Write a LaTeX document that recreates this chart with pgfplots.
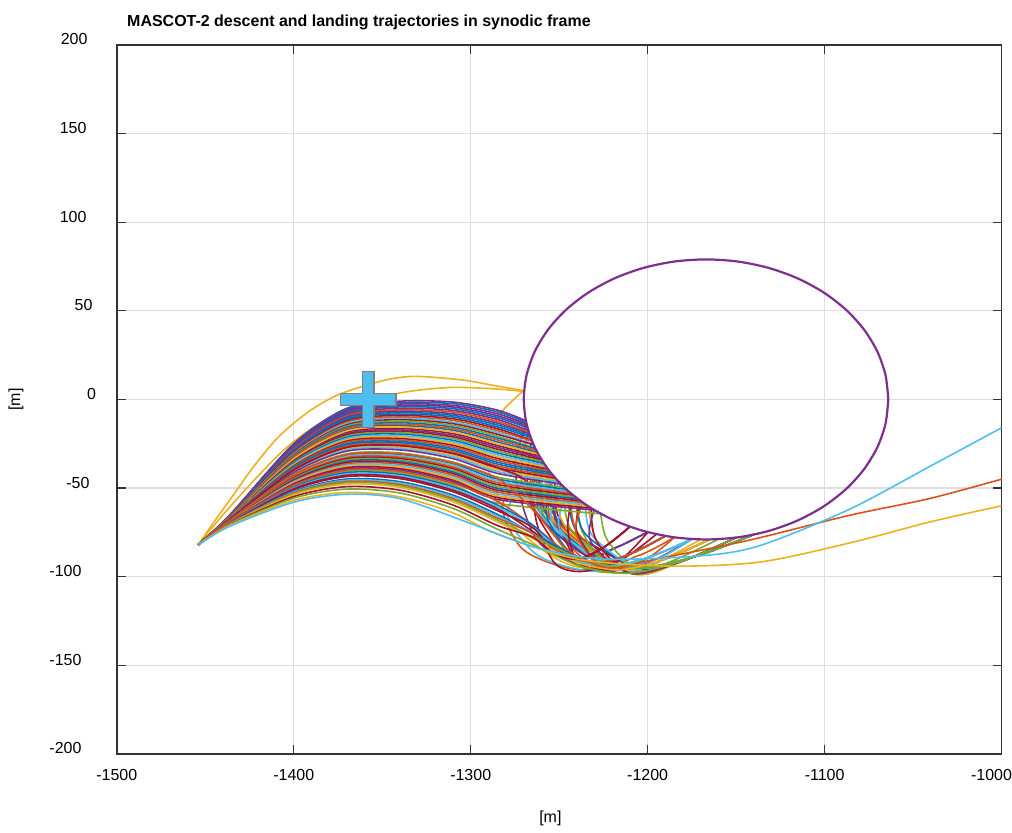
\documentclass[border=0pt]{standalone}
\usepackage{fontspec}
\setmainfont{Liberation Sans}
\usepackage{pgfplots}
\pgfplotsset{compat=1.18}

\definecolor{mB}{RGB}{0,114,189}
\definecolor{mO}{RGB}{217,83,25}
\definecolor{mY}{RGB}{237,177,32}
\definecolor{mP}{RGB}{126,47,142}
\definecolor{mG}{RGB}{119,172,48}
\definecolor{mC}{RGB}{77,190,238}
\definecolor{mR}{RGB}{162,20,47}

\pgfplotsset{trj/.style={smooth, line width=0.8pt, mark=none}}

\begin{document}
\begin{tikzpicture}
\begin{axis}[
  width=443pt, height=355pt, scale only axis,
  xmin=-1500, xmax=-1000, ymin=-200, ymax=200,
  xtick={-1500,-1400,...,-1000},
  xticklabels={-1500,-1400,-1300,-1200,-1100,{\hspace*{-10pt}-1000}},
  ytick={-200,-150,...,200},
  yticklabels={{-200\hspace*{2.5pt}},{-150\hspace*{2.5pt}},{-100\hspace*{2.5pt}},{-50\hspace*{-1.5pt}},{0\hspace*{-6pt}},{50\hspace*{-3pt}},100,150,{200\hspace*{-0.5pt}}},
  grid=major,
  grid style={black!13, line width=0.6pt},
  axis line style={black!80, line width=0.8pt},
  tick style={black!80, line width=0.6pt},
  major tick length=4.5pt, tick align=inside,
  every tick label/.append style={font=\fontsize{8}{10}\selectfont, inner sep=0pt},
  xticklabel style={anchor=base, yshift=-13.5pt},
  yticklabel style={anchor=east, xshift=-15pt, yshift=2.75pt},
  title={MASCOT-2 descent and landing trajectories in synodic frame},
  title style={at={(0.0113,1)}, anchor=base west, yshift=3pt, inner sep=0pt,
    font=\bfseries\fontsize{8}{10}\selectfont},
  xlabel={[m]}, ylabel={[m]},
  label style={font=\fontsize{8}{10}\selectfont},
  xlabel style={at={(axis description cs:0.49,-0.0915)}, anchor=center},
  ylabel style={at={(axis description cs:-0.114,0.5)}, anchor=center},
]

% high yellow arcs
\addplot[trj, mY] coordinates {(-1454,-82)(-1445,-69)(-1436,-56.5)(-1422,-37)(-1408,-20.5)(-1391,-6.5)(-1374,3)(-1350,10.5)(-1332,13)(-1305,11)(-1285,7.5)(-1270,5)};
\addplot[trj, mY] coordinates {(-1454,-82)(-1445,-71)(-1436,-60.5)(-1420,-43)(-1405,-28)(-1390,-16.5)(-1374,-7.5)(-1355,0)(-1335,4.5)(-1310,6.8)(-1284,5.8)(-1270,4.5)};
\addplot[trj, mY] coordinates {(-1270,5)(-1284,-9)(-1292,-30)(-1278,-68)(-1245,-93)(-1205,-95)(-1170,-79)};

% upper band, touching the left side
\addplot[trj, mP] coordinates {(-1454,-82)(-1436,-65)(-1400,-25)(-1370,-5)(-1340,-1)(-1310,-1.5)(-1285,-6)(-1268.8,-12)};
\addplot[trj, mB] coordinates {(-1454,-82)(-1436,-65.1)(-1400,-25.5)(-1370,-5.7)(-1340,-1.8)(-1310,-2.4)(-1285,-7)(-1268.6,-13)};
\addplot[trj, mP] coordinates {(-1454,-82)(-1436,-65.2)(-1400,-26)(-1370,-6.4)(-1340,-2.6)(-1310,-3.4)(-1285,-8.1)(-1268.4,-14)};
\addplot[trj, mP] coordinates {(-1268.4,-14)(-1275,-40)(-1262,-80)(-1230,-96)(-1200,-92)(-1175,-78.8)};
\addplot[trj, mP] coordinates {(-1454,-82)(-1436,-65.3)(-1400,-26.4)(-1370,-7.1)(-1340,-3.4)(-1310,-4.3)(-1285,-9.2)(-1268.1,-15)};
\addplot[trj, mB] coordinates {(-1454,-82)(-1436,-65.4)(-1400,-26.9)(-1370,-7.9)(-1340,-4.2)(-1310,-5.2)(-1285,-10.2)(-1267.9,-16)};
\addplot[trj, mP] coordinates {(-1454,-82)(-1436,-65.5)(-1400,-27.4)(-1370,-8.6)(-1340,-5.05)(-1310,-6.2)(-1285,-11.25)(-1267.4,-17.5)};
\addplot[trj, mO] coordinates {(-1454,-82)(-1436,-65.5)(-1400,-27.9)(-1370,-9.3)(-1340,-5.9)(-1310,-7.1)(-1285,-12.3)(-1267,-18.5)};
\addplot[trj, mO] coordinates {(-1267,-18.5)(-1270,-50)(-1232,-93)(-1205,-88)(-1185,-77.8)};
\addplot[trj, mP] coordinates {(-1454,-82)(-1436,-65.6)(-1400,-28.4)(-1370,-10)(-1340,-6.7)(-1310,-8.1)(-1285,-13.35)(-1266.9,-19.35)};
\addplot[trj, mB] coordinates {(-1454,-82)(-1436,-65.7)(-1400,-28.8)(-1370,-10.7)(-1340,-7.5)(-1310,-9)(-1285,-14.4)(-1266.4,-20.5)};
\addplot[trj, mB] coordinates {(-1454,-82)(-1436,-65.8)(-1400,-29.3)(-1370,-11.4)(-1340,-8.3)(-1310,-9.9)(-1285,-15.45)(-1266.1,-21.45)};
\addplot[trj, mR] coordinates {(-1454,-82)(-1436,-65.9)(-1400,-29.8)(-1370,-12.1)(-1340,-9.1)(-1310,-10.9)(-1285,-16.5)(-1265.5,-23)};
\addplot[trj, mR] coordinates {(-1265.5,-23)(-1267,-55)(-1245,-90)(-1220,-93)(-1195,-76)};
\addplot[trj, mO] coordinates {(-1454,-82)(-1436,-66)(-1400,-30.3)(-1370,-12.8)(-1340,-9.9)(-1310,-11.8)(-1285,-17.55)(-1265.3,-23.55)};
\addplot[trj, mC] coordinates {(-1454,-82)(-1436,-66.1)(-1400,-30.8)(-1370,-13.5)(-1340,-10.7)(-1310,-12.8)(-1285,-18.6)(-1264.7,-25)};
\addplot[trj, mR] coordinates {(-1454,-82)(-1436,-66.2)(-1400,-31.2)(-1370,-14.3)(-1340,-11.5)(-1310,-13.7)(-1285,-19.65)(-1264.4,-25.65)};
\addplot[trj, mG] coordinates {(-1454,-82)(-1436,-66.3)(-1400,-31.7)(-1370,-15)(-1340,-12.3)(-1310,-14.6)(-1285,-20.7)(-1263.6,-27.5)};
\addplot[trj, mG] coordinates {(-1263.6,-27.5)(-1262,-58)(-1238,-94)(-1200,-96)(-1160,-78.8)};
\addplot[trj, mB] coordinates {(-1454,-82)(-1436,-66.4)(-1400,-32.2)(-1370,-15.7)(-1340,-13.2)(-1310,-15.6)(-1285,-21.75)(-1263.4,-27.75)};

% middle band: hit the lower left side and bounce
\addplot[trj, mB] coordinates {(-1454,-82)(-1436,-66.5)(-1400,-33.2)(-1370,-17.1)(-1340,-14.8)(-1310,-17.4)(-1285,-23.9)(-1262.3,-29.9)};
\addplot[trj, mB] coordinates {(-1262.3,-29.9)(-1259.3,-62)(-1222,-94)(-1198.5,-88.7)(-1175,-78.8)};
\addplot[trj, mO] coordinates {(-1454,-82)(-1436,-66.4)(-1400,-32.7)(-1370,-16.4)(-1340,-14)(-1310,-16.5)(-1285,-22.8)(-1262.9,-28.8)};
\addplot[trj, mO] coordinates {(-1262.9,-28.8)(-1264.9,-60.4)(-1228,-92)(-1209,-86.8)(-1190,-77)};
\addplot[trj, mR] coordinates {(-1454,-82)(-1436,-66.7)(-1400,-34.1)(-1370,-18.5)(-1340,-16.4)(-1310,-19.3)(-1285,-26)(-1261.2,-32)};
\addplot[trj, mR] coordinates {(-1261.2,-32)(-1257.2,-63.5)(-1205,-95)(-1172.5,-88.4)(-1140,-76.2)};
\addplot[trj, mY] coordinates {(-1454,-82)(-1436,-66.6)(-1400,-33.6)(-1370,-17.8)(-1340,-15.6)(-1310,-18.4)(-1285,-24.9)(-1261.8,-30.9)};
\addplot[trj, mY] coordinates {(-1261.8,-30.9)(-1257.8,-63.5)(-1215,-96)(-1190,-90)(-1165,-79)};
\addplot[trj, mP] coordinates {(-1454,-82)(-1436,-66.8)(-1400,-34.6)(-1370,-19.3)(-1340,-17.2)(-1310,-20.3)(-1285,-27)(-1260.6,-33)};
\addplot[trj, mP] coordinates {(-1260.6,-33)(-1265.6,-60.5)(-1235,-88)(-1217.5,-83.4)(-1200,-74.8)};
\addplot[trj, mR] coordinates {(-1454,-82)(-1436,-66.9)(-1400,-35.1)(-1370,-20)(-1340,-18)(-1310,-21.2)(-1285,-28.05)(-1259.9,-34.05)};
\addplot[trj, mR] coordinates {(-1259.9,-34.05)(-1257.9,-63)(-1228,-92)(-1209,-86.8)(-1190,-77)};
\addplot[trj, mG] coordinates {(-1454,-82)(-1436,-67)(-1400,-35.6)(-1370,-20.7)(-1340,-18.8)(-1310,-22.1)(-1285,-29.1)(-1259.3,-35.1)};
\addplot[trj, mG] coordinates {(-1259.3,-35.1)(-1255.3,-66.6)(-1210,-98)(-1180,-91)(-1150,-77.9)};
\addplot[trj, mB] coordinates {(-1454,-82)(-1436,-67.1)(-1400,-36)(-1370,-21.4)(-1340,-19.6)(-1310,-23.1)(-1285,-30.15)(-1258.6,-36.15)};
\addplot[trj, mB] coordinates {(-1258.6,-36.15)(-1261.6,-62.1)(-1235,-88)(-1217.5,-83.4)(-1200,-74.8)};
\addplot[trj, mC] coordinates {(-1454,-82)(-1436,-67.2)(-1400,-36.5)(-1370,-22.1)(-1340,-20.4)(-1310,-24)(-1285,-31.2)(-1257.9,-37.2)};
\addplot[trj, mC] coordinates {(-1257.9,-37.2)(-1259.9,-65.6)(-1222,-94)(-1198.5,-88.7)(-1175,-78.8)};
\addplot[trj, mY] coordinates {(-1454,-82)(-1436,-67.3)(-1400,-37)(-1370,-22.8)(-1340,-21.25)(-1310,-24.9)(-1285,-32.25)(-1257.1,-38.25)};
\addplot[trj, mY] coordinates {(-1257.1,-38.25)(-1253.1,-68.1)(-1210,-98)(-1180,-91)(-1150,-77.9)};
\addplot[trj, mR] coordinates {(-1454,-82)(-1436,-67.3)(-1400,-37.5)(-1370,-23.5)(-1340,-22.1)(-1310,-25.9)(-1285,-33.3)(-1256.4,-39.3)};
\addplot[trj, mR] coordinates {(-1256.4,-39.3)(-1252.4,-64.7)(-1240,-90)(-1225,-83.6)(-1210,-71.8)};
\addplot[trj, mO] coordinates {(-1454,-82)(-1436,-67.4)(-1400,-38)(-1370,-24.2)(-1340,-22.9)(-1310,-26.8)(-1285,-34.35)(-1255.5,-40.35)};
\addplot[trj, mO] coordinates {(-1255.5,-40.35)(-1251.5,-68.2)(-1215,-96)(-1190,-90)(-1165,-79)};
\addplot[trj, mB] coordinates {(-1454,-82)(-1436,-67.5)(-1400,-38.4)(-1370,-25)(-1340,-23.7)(-1310,-27.8)(-1285,-35.4)(-1254.7,-41.4)};
\addplot[trj, mB] coordinates {(-1254.7,-41.4)(-1250.7,-68.2)(-1205,-95)(-1172.5,-88.4)(-1140,-76.2)};
\addplot[trj, mB] coordinates {(-1454,-82)(-1436,-67.6)(-1400,-38.9)(-1370,-25.7)(-1340,-24.5)(-1310,-28.7)(-1285,-36.45)(-1253.9,-42.45)};
\addplot[trj, mB] coordinates {(-1253.9,-42.45)(-1256.9,-66.2)(-1240,-90)(-1225,-83.6)(-1210,-71.8)};
\addplot[trj, mO] coordinates {(-1454,-82)(-1436,-67.7)(-1400,-39.4)(-1370,-26.4)(-1340,-25.3)(-1310,-29.6)(-1285,-37.5)(-1253,-43.5)};
\addplot[trj, mO] coordinates {(-1253,-43.5)(-1255,-67.8)(-1228,-92)(-1209,-86.8)(-1190,-77)};
\addplot[trj, mO] coordinates {(-1253,-43.5)(-1275,-50)(-1282,-62)(-1270,-85)(-1240,-96)(-1205,-92)(-1185,-77.8)};
\addplot[trj, mR] coordinates {(-1454,-82)(-1436,-67.8)(-1400,-39.9)(-1370,-27.1)(-1340,-26.1)(-1310,-30.6)(-1285,-38.55)(-1252.1,-44.55)};
\addplot[trj, mR] coordinates {(-1252.1,-44.55)(-1248.1,-69.8)(-1205,-95)(-1172.5,-88.4)(-1140,-76.2)};
\addplot[trj, mY] coordinates {(-1454,-82)(-1436,-67.9)(-1400,-40.4)(-1370,-27.8)(-1340,-26.9)(-1310,-31.5)(-1285,-39.6)(-1251.1,-45.6)};
\addplot[trj, mY] coordinates {(-1251.1,-45.6)(-1247.1,-70.8)(-1215,-96)(-1190,-90)(-1165,-79)};
\addplot[trj, mC] coordinates {(-1454,-82)(-1436,-68)(-1400,-40.8)(-1370,-28.5)(-1340,-27.7)(-1310,-32.4)(-1285,-40.65)(-1250.1,-46.65)};
\addplot[trj, mC] coordinates {(-1250.1,-46.65)(-1253.1,-71.3)(-1215,-96)(-1190,-90)(-1165,-79)};
\addplot[trj, mC] coordinates {(-1250.1,-46.65)(-1272,-52)(-1279,-66)(-1262,-88)(-1230,-97)(-1195,-90)(-1175,-78.8)};
\addplot[trj, mP] coordinates {(-1454,-82)(-1436,-68.1)(-1400,-41.3)(-1370,-29.2)(-1340,-28.5)(-1310,-33.4)(-1285,-41.7)(-1249.1,-47.7)};
\addplot[trj, mP] coordinates {(-1249.1,-47.7)(-1252.1,-67.9)(-1235,-88)(-1217.5,-83.4)(-1200,-74.8)};
\addplot[trj, mR] coordinates {(-1454,-82)(-1436,-67.6)(-1400,-39.9)(-1370,-27.1)(-1340,-26.1)(-1310,-30.5)(-1285,-38.5)(-1268,-47)(-1262,-72)(-1252,-93)(-1236,-97)(-1215,-90)(-1200,-75)};
\addplot[trj, mG] coordinates {(-1454,-82)(-1436,-68.2)(-1400,-42.3)(-1370,-30.7)(-1340,-30.2)(-1310,-35.3)(-1285,-43.8)(-1247,-49.8)};
\addplot[trj, mG] coordinates {(-1247,-49.8)(-1243,-73.9)(-1210,-98)(-1180,-91)(-1150,-77.9)};
\addplot[trj, mB] coordinates {(-1454,-82)(-1436,-68.3)(-1400,-42.8)(-1370,-31.4)(-1340,-31)(-1310,-36.2)(-1285,-44.85)(-1245.8,-50.85)};
\addplot[trj, mB] coordinates {(-1245.8,-50.85)(-1241.8,-71.4)(-1228,-92)(-1209,-86.8)(-1190,-77)};
\addplot[trj, mC] coordinates {(-1454,-82)(-1436,-68.4)(-1400,-43.2)(-1370,-32.1)(-1340,-31.8)(-1310,-37.1)(-1285,-45.9)(-1244.7,-51.9)};
\addplot[trj, mC] coordinates {(-1244.7,-51.9)(-1249.7,-73)(-1222,-94)(-1198.5,-88.7)(-1175,-78.8)};
\addplot[trj, mO] coordinates {(-1454,-82)(-1436,-68.5)(-1400,-43.7)(-1370,-32.8)(-1340,-32.6)(-1310,-38.1)(-1285,-46.95)(-1243.4,-52.95)};
\addplot[trj, mO] coordinates {(-1243.4,-52.95)(-1239.4,-75.5)(-1210,-98)(-1180,-91)(-1150,-77.9)};
\addplot[trj, mR] coordinates {(-1454,-82)(-1436,-68.6)(-1400,-44.2)(-1370,-33.5)(-1340,-33.4)(-1310,-39)(-1285,-48)(-1242.2,-54)};
\addplot[trj, mR] coordinates {(-1242.2,-54)(-1245.2,-72)(-1240,-90)(-1225,-83.6)(-1210,-71.8)};
\addplot[trj, mG] coordinates {(-1454,-82)(-1436,-68.7)(-1400,-44.7)(-1370,-34.2)(-1340,-34.2)(-1310,-39.9)(-1285,-49.05)(-1240.9,-55.05)};
\addplot[trj, mG] coordinates {(-1240.9,-55.05)(-1237,-74.5)(-1222,-94)(-1198.5,-88.7)(-1175,-78.8)};
\addplot[trj, mB] coordinates {(-1454,-82)(-1436,-68.8)(-1400,-45.2)(-1370,-34.9)(-1340,-35)(-1310,-40.9)(-1285,-50.1)(-1239.5,-56.1)};
\addplot[trj, mB] coordinates {(-1239.5,-56.1)(-1235.5,-75.6)(-1205,-95)(-1172.5,-88.4)(-1140,-76.2)};
\addplot[trj, mR] coordinates {(-1454,-82)(-1436,-68.9)(-1400,-45.6)(-1370,-35.6)(-1340,-35.8)(-1310,-41.8)(-1285,-51.15)(-1238.1,-57.15)};
\addplot[trj, mR] coordinates {(-1238.1,-57.15)(-1240.1,-74.6)(-1228,-92)(-1209,-86.8)(-1190,-77)};
\addplot[trj, mO] coordinates {(-1454,-82)(-1436,-69)(-1400,-46.1)(-1370,-36.4)(-1340,-36.6)(-1310,-42.8)(-1285,-52.2)(-1236.6,-58.2)};
\addplot[trj, mO] coordinates {(-1236.6,-58.2)(-1240.6,-75.1)(-1228,-92)(-1209,-86.8)(-1190,-77)};
\addplot[trj, mC] coordinates {(-1454,-82)(-1436,-69.05)(-1400,-46.6)(-1370,-37.1)(-1340,-37.45)(-1310,-43.7)(-1285,-53.25)(-1235.1,-59.25)};
\addplot[trj, mC] coordinates {(-1235.1,-59.25)(-1231.1,-77.1)(-1205,-95)(-1172.5,-88.4)(-1140,-76.2)};
\addplot[trj, mY] coordinates {(-1454,-82)(-1436,-69.1)(-1400,-47.1)(-1370,-37.8)(-1340,-38.3)(-1310,-44.6)(-1285,-54.3)(-1233.5,-60.3)};
\addplot[trj, mY] coordinates {(-1233.5,-60.3)(-1229.5,-78.2)(-1215,-96)(-1190,-90)(-1165,-79)};
\addplot[trj, mR] coordinates {(-1454,-82)(-1436,-69.2)(-1400,-47.6)(-1370,-38.5)(-1340,-39.1)(-1310,-45.6)(-1285,-55.35)(-1231.9,-61.35)};
\addplot[trj, mR] coordinates {(-1231.9,-61.35)(-1229,-79.7)(-1210,-98)(-1180,-91)(-1150,-77.9)};
\addplot[trj, mP] coordinates {(-1454,-82)(-1436,-69.3)(-1400,-48)(-1370,-39.2)(-1340,-39.9)(-1310,-46.5)(-1285,-56.4)(-1230.2,-62.4)};
\addplot[trj, mP] coordinates {(-1230.2,-62.4)(-1232.2,-80.2)(-1210,-98)(-1180,-91)(-1150,-77.9)};
\addplot[trj, mG] coordinates {(-1454,-82)(-1436,-69.5)(-1400,-49)(-1370,-40.6)(-1340,-41.5)(-1310,-48.4)(-1285,-58.5)(-1226.5,-64.5)};
\addplot[trj, mG] coordinates {(-1226.5,-64.5)(-1222.5,-79.8)(-1205,-95)(-1172.5,-88.4)(-1140,-76.2)};

% lower band: pass under and land on the bottom
\addplot[trj, mO] coordinates {(-1454,-82)(-1436,-69.4)(-1400,-48.5)(-1370,-39.9)(-1340,-40.7)(-1310,-47.4)(-1285,-57.45)(-1265,-70.95)(-1240,-90.2)(-1215,-96)(-1190,-90)(-1165,-79)};
\addplot[trj, mB] coordinates {(-1454,-82)(-1436,-69.6)(-1400,-49.5)(-1370,-41.3)(-1340,-42.3)(-1310,-49.3)(-1285,-59.55)(-1265,-70.9)(-1246.5,-87.1)(-1228,-92)(-1209,-86.8)(-1190,-77)};
\addplot[trj, mC] coordinates {(-1454,-82)(-1436,-69.7)(-1400,-50)(-1370,-42.1)(-1340,-43.1)(-1310,-50.3)(-1285,-60.6)(-1265,-72.3)(-1243.5,-89)(-1222,-94)(-1198.5,-88.7)(-1175,-78.8)};
\addplot[trj, mR] coordinates {(-1454,-82)(-1436,-69.8)(-1400,-50.4)(-1370,-42.8)(-1340,-43.9)(-1310,-51.2)(-1285,-61.65)(-1265,-74.4)(-1237.5,-92.5)(-1210,-98)(-1180,-91)(-1150,-77.9)};
\addplot[trj, mR] coordinates {(-1454,-82)(-1436,-69.9)(-1400,-50.9)(-1370,-43.5)(-1340,-44.7)(-1310,-52.1)(-1285,-62.7)(-1265,-72.3)(-1252.5,-85.9)(-1240,-90)(-1225,-83.6)(-1210,-71.8)};
\addplot[trj, mB] coordinates {(-1454,-82)(-1436,-70)(-1400,-51.9)(-1370,-44.9)(-1340,-46.4)(-1310,-54)(-1285,-64.8)(-1265,-75.4)(-1235,-90.5)(-1205,-95)(-1172.5,-88.4)(-1140,-76.2)};
\addplot[trj, mC] coordinates {(-1454,-82)(-1436,-70.1)(-1400,-52.4)(-1370,-45.6)(-1340,-47.2)(-1310,-54.9)(-1285,-65.85)(-1265,-75.7)(-1243.5,-89.8)(-1222,-94)(-1198.5,-88.7)(-1175,-78.8)};
\addplot[trj, mO] coordinates {(-1454,-82)(-1436,-70.2)(-1400,-52.8)(-1370,-46.3)(-1340,-48)(-1310,-55.9)(-1285,-66.9)(-1265,-75.7)(-1246.5,-88.2)(-1228,-92)(-1209,-86.8)(-1190,-77)};
\addplot[trj, mG] coordinates {(-1454,-82)(-1436,-70.3)(-1400,-53.3)(-1370,-47)(-1340,-48.8)(-1310,-56.8)(-1285,-67.95)(-1265,-77.4)(-1235,-91)(-1205,-95)(-1172.5,-88.4)(-1140,-76.2)};
\addplot[trj, mY] coordinates {(-1454,-82)(-1436,-70.4)(-1400,-53.8)(-1370,-47.8)(-1340,-49.6)(-1310,-57.8)(-1285,-69)(-1265,-78.5)(-1240,-92)(-1215,-96)(-1190,-90)(-1165,-79)};
\addplot[trj, mR] coordinates {(-1454,-82)(-1436,-70.6)(-1400,-54.8)(-1370,-49.2)(-1340,-51.2)(-1310,-59.6)(-1285,-71.1)(-1265,-77.7)(-1252.5,-87.2)(-1240,-90)(-1225,-83.6)(-1210,-71.8)};
\addplot[trj, mG] coordinates {(-1454,-82)(-1436,-70.8)(-1400,-55.7)(-1370,-50.6)(-1340,-52.8)(-1310,-61.5)(-1285,-73.2)(-1265,-81.9)(-1237.5,-94.3)(-1210,-98)(-1180,-91)(-1150,-77.9)};

% three that leave to the right
\addplot[trj, mO] coordinates {(-1454,-82)(-1436,-68.3)(-1400,-42.6)(-1370,-31.1)(-1340,-30.7)(-1310,-35.9)(-1285,-44.5)(-1265,-62)(-1245,-85)(-1222,-95)(-1195,-90)(-1143,-79.5)(-1086,-65.4)(-1041,-56)(-1000,-45)};
\addplot[trj, mY] coordinates {(-1454,-82)(-1436,-71)(-1400,-57)(-1370,-52.5)(-1340,-55)(-1310,-64)(-1285,-76)(-1240,-90)(-1188,-94)(-1137,-91.8)(-1086,-81)(-1040,-69)(-1000,-60)};
\addplot[trj, mC] coordinates {(-1454,-82)(-1436,-71.5)(-1400,-58)(-1370,-53.5)(-1340,-56)(-1300,-70)(-1265,-83)(-1227,-90)(-1171,-88.3)(-1137,-82.6)(-1086,-62)(-1040,-37.5)(-1000,-16)};

% body outline
\addplot[smooth, mP, line width=1.1pt, mark=none] coordinates {
  (-1064,0)(-1065.57,13.71)(-1070.21,27.02)(-1077.8,39.5)(-1088.1,50.78)(-1100.79,60.51)
  (-1115.5,68.41)(-1131.77,74.24)(-1149.12,77.8)(-1167,79)(-1184.88,77.8)(-1202.23,74.24)
  (-1218.5,68.41)(-1233.21,60.51)(-1245.9,50.78)(-1256.2,39.5)(-1263.79,27.02)(-1268.43,13.71)
  (-1270,0)(-1268.43,-13.71)(-1263.79,-27.02)(-1256.2,-39.5)(-1245.9,-50.78)(-1233.21,-60.51)
  (-1218.5,-68.41)(-1202.23,-74.24)(-1184.88,-77.8)(-1167,-79)(-1149.12,-77.8)(-1131.77,-74.24)
  (-1115.5,-68.41)(-1100.79,-60.51)(-1088.1,-50.78)(-1077.8,-39.5)(-1070.21,-27.02)(-1065.57,-13.71)
  (-1064,0)};

% target marker
\addplot[fill=mC, draw=black!50, line width=0.6pt, mark=none] coordinates {
  (-1361.3,15.8)(-1354.7,15.8)(-1354.7,3.3)(-1342.2,3.3)(-1342.2,-3.3)(-1354.7,-3.3)
  (-1354.7,-16)(-1361.3,-16)(-1361.3,-3.3)(-1373.8,-3.3)(-1373.8,3.3)(-1361.3,3.3)} -- cycle;

\coordinate (bbA) at (rel axis cs:-0.13205,-0.10845);
\coordinate (bbB) at (rel axis cs:1.01016,1.06338);
\end{axis}
\path (bbA) rectangle (bbB);
\end{tikzpicture}
\end{document}
